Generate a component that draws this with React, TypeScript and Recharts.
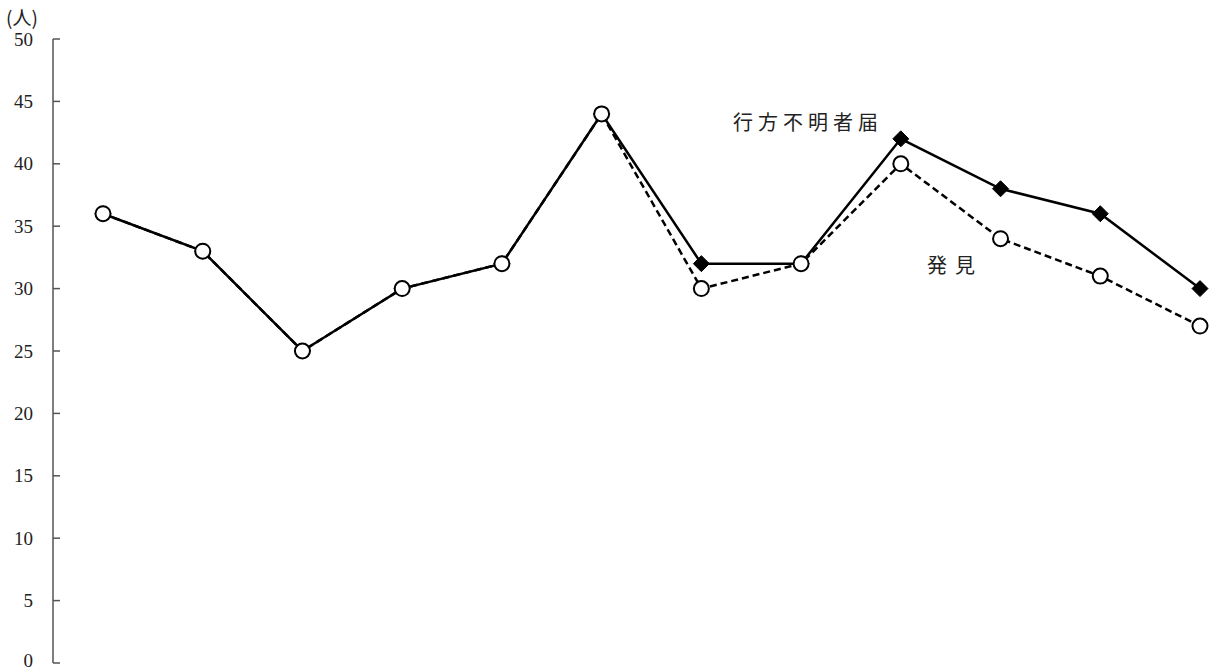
import React from "react";
import { LineChart, Line, XAxis, YAxis } from "recharts";

const periods = ["1", "2", "3", "4", "5", "6", "7", "8", "9", "10", "11", "12"];
const reported = [36, 33, 25, 30, 32, 44, 32, 32, 42, 38, 36, 30];
const found = [36, 33, 25, 30, 32, 44, 30, 32, 40, 34, 31, 27];
const yTicks = [0, 5, 10, 15, 20, 25, 30, 35, 40, 45, 50];

const chartData = periods.map((p, i) => ({ period: p, reported: reported[i], found: found[i] }));

const Diamond = (props: any) => {
  const { cx, cy } = props;
  if (cx == null || cy == null) return null;
  const s = 8;
  return (
    <path
      d={`M${cx},${cy - s} L${cx + s},${cy} L${cx},${cy + s} L${cx - s},${cy} Z`}
      fill="#000"
      stroke="#000"
      strokeWidth={1}
    />
  );
};

const Circle = (props: any) => {
  const { cx, cy } = props;
  if (cx == null || cy == null) return null;
  return <circle cx={cx} cy={cy} r={7.5} fill="#fff" stroke="#000" strokeWidth={2} />;
};

// y tick label; the 0 is nudged up a little so it stays inside the frame
const YTick = (props: any) => {
  const { x, y, payload } = props;
  const shift = payload.value === 0 ? -3 : 0;
  return (
    <text
      x={x}
      y={y + shift}
      dy="0.35em"
      textAnchor="end"
      fill="#222"
      fontSize={19}
      fontFamily="'Liberation Serif', serif"
    >
      {payload.value}
    </text>
  );
};

const labelStyle: React.CSSProperties = {
  position: "absolute",
  fontFamily: "'Noto Sans CJK JP', sans-serif",
  fontSize: 20,
  color: "#222",
  whiteSpace: "nowrap",
  lineHeight: 1,
};

export default function App() {
  return (
    <div style={{ position: "absolute", left: 0, top: 0, width: 1219, height: 672, background: "#fff" }}>
      <LineChart width={1219} height={672} data={chartData} margin={{ top: 39, right: 0, bottom: 9, left: 0 }}>
        <XAxis dataKey="period" hide padding={{ left: 50, right: 19 }} />
        <YAxis
          width={53}
          domain={[0, 50]}
          ticks={yTicks}
          interval={0}
          tickSize={-7}
          tickMargin={27}
          axisLine={{ stroke: "#555", strokeWidth: 1.5 }}
          tickLine={{ stroke: "#555", strokeWidth: 1.5 }}
          tick={<YTick />}
        />
        <Line
          dataKey="reported"
          stroke="#000"
          strokeWidth={2.5}
          dot={<Diamond />}
          activeDot={false}
          isAnimationActive={false}
        />
        <Line
          dataKey="found"
          stroke="#000"
          strokeWidth={2.5}
          strokeDasharray="7 4"
          dot={<Circle />}
          activeDot={false}
          isAnimationActive={false}
        />
      </LineChart>
      <div style={{ ...labelStyle, left: 6, top: 7, fontSize: 19 }}>(人)</div>
      <div style={{ ...labelStyle, left: 733, top: 112, letterSpacing: 5 }}>行方不明者届</div>
      <div style={{ ...labelStyle, left: 927, top: 255, letterSpacing: 8 }}>発見</div>
    </div>
  );
}
